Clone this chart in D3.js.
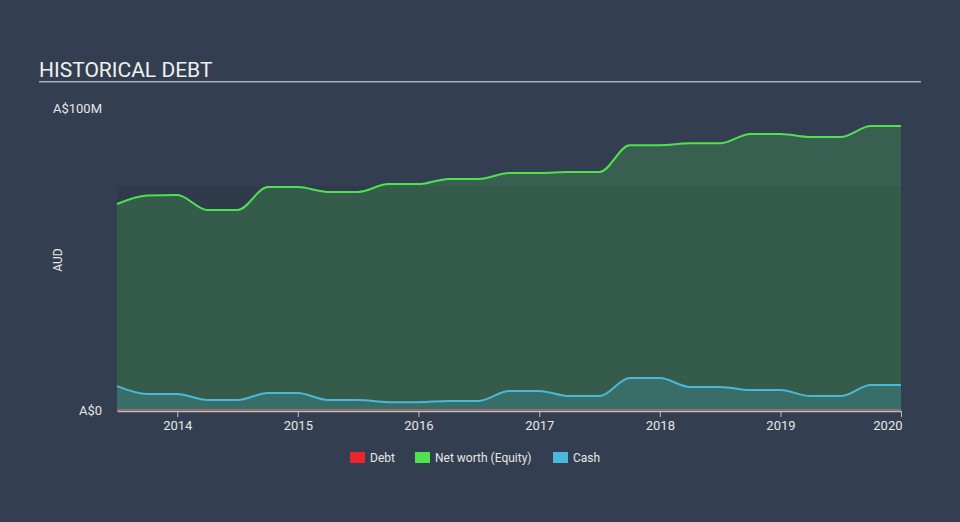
<!DOCTYPE html>
<html>
<head>
<meta charset="utf-8">
<script src="https://cdn.jsdelivr.net/npm/d3@7"></script>
<style>
  html, body { margin: 0; padding: 0; background: #333f50; }
  svg { display: block; font-family: Roboto, "Open Sans", sans-serif; }
</style>
</head>
<body>
<svg id="chart" width="960" height="522"></svg>
<script>
// Dates (fractional years) of the quarterly observations
const dates = [2013.5, 2013.75, 2014.0, 2014.25, 2014.5, 2014.75, 2015.0, 2015.25, 2015.5, 2015.75,
  2016.0, 2016.25, 2016.5, 2016.75, 2017.0, 2017.25, 2017.5, 2017.75, 2018.0, 2018.25,
  2018.5, 2018.75, 2019.0, 2019.25, 2019.5, 2019.75, 2020.0];
// Values in A$ millions
const equity = [68.2, 71.0, 71.2, 66.2, 66.2, 73.8, 73.8, 72.2, 72.2, 74.8,
  74.8, 76.5, 76.5, 78.5, 78.5, 78.8, 78.8, 87.7, 87.7, 88.3,
  88.3, 91.4, 91.4, 90.4, 90.4, 94.0, 94.0];
const cash = [7.9, 5.3, 5.3, 3.3, 3.3, 5.6, 5.6, 3.3, 3.3, 2.6,
  2.6, 3.0, 3.0, 6.3, 6.3, 4.6, 4.6, 10.6, 10.6, 7.6,
  7.6, 6.6, 6.6, 4.6, 4.6, 8.3, 8.3];
const debt = dates.map(() => 0);
const xTicks = [2014, 2015, 2016, 2017, 2018, 2019, 2020];
const yTickLabels = ["A$0", "A$100M"];
const yTickValues = [0, 100];
const legendItems = ["Debt", "Net worth (Equity)", "Cash"];
const legendColors = ["#e8262b", "#4ee34e", "#4ab8d8"];

const toDate = f => {
  const yr = Math.floor(f);
  const frac = f - yr;
  const start = new Date(yr, 0, 1), end = new Date(yr + 1, 0, 1);
  return new Date(start.getTime() + frac * (end - start));
};

const svg = d3.select("#chart");
const pLeft = 117, pRight = 901, pTop = 108, pBottom = 410;

const x = d3.scaleTime().domain([toDate(2013.5), toDate(2020.0)]).range([pLeft, pRight]);
const y = d3.scaleLinear().domain([0, 100]).range([pBottom, pTop]);

// Title
svg.append("text").attr("x", 39).attr("y", 77)
  .attr("fill", "#f0f0f0").attr("font-size", 21).text("HISTORICAL DEBT");
svg.append("rect").attr("x", 39).attr("y", 81).attr("width", 882).attr("height", 1.5)
  .attr("fill", "#a9b0b8");

// Darker plot band
svg.append("rect").attr("x", pLeft).attr("y", 186).attr("width", pRight - pLeft).attr("height", pBottom - 186)
  .attr("fill", "#000").attr("opacity", 0.07);

const data = dates.map((d, i) => ({ t: toDate(d), eq: equity[i], cash: cash[i], debt: debt[i] }));
const curve = d3.curveMonotoneX;

const area = key => d3.area().x(d => x(d.t)).y0(y(0)).y1(d => y(d[key])).curve(curve);
const line = key => d3.line().x(d => x(d.t)).y(d => y(d[key])).curve(curve);

svg.append("path").datum(data).attr("d", area("eq")).attr("fill", "#4ee34e").attr("fill-opacity", 0.2);
svg.append("path").datum(data).attr("d", area("cash")).attr("fill", "#4ab8d8").attr("fill-opacity", 0.2);
svg.append("path").datum(data).attr("d", line("eq")).attr("fill", "none").attr("stroke", "#4ee34e").attr("stroke-width", 2);
svg.append("path").datum(data).attr("d", line("cash")).attr("fill", "none").attr("stroke", "#4ab8d8").attr("stroke-width", 2);

// X axis
const xAxis = svg.append("g").attr("transform", `translate(0,${pBottom + 1})`)
  .call(d3.axisBottom(x).tickValues(xTicks.map(v => toDate(v))).tickFormat(d3.timeFormat("%Y")).tickSize(6).tickSizeOuter(0));
xAxis.select(".domain").attr("stroke", "#b8bec6").attr("stroke-width", 1.5);
xAxis.selectAll(".tick line").attr("stroke", "#b8bec6");
xAxis.selectAll(".tick text").attr("fill", "#e6e6e6").attr("font-size", 13).attr("font-family", "Roboto, sans-serif").attr("dy", "0.8em")
  .attr("text-anchor", (d, i) => i === xTicks.length - 1 ? "end" : "middle")
  .attr("x", (d, i) => i === xTicks.length - 1 ? 1 : 0);

// Debt line (zero)
svg.append("path").datum(data).attr("d", line("debt")).attr("fill", "none").attr("stroke", "#e8726b").attr("stroke-width", 1.2);

// Y labels
svg.selectAll(".ylab").data(yTickValues).enter().append("text")
  .attr("x", 102).attr("y", d => y(d)).attr("dy", "0.35em").attr("text-anchor", "end")
  .attr("fill", "#e6e6e6").attr("font-size", 13).text((d, i) => yTickLabels[i]);

svg.append("text").attr("transform", "translate(62,260) rotate(-90)").attr("text-anchor", "middle")
  .attr("fill", "#e6e6e6").attr("font-size", 12).text("AUD");

// Legend
const legX = [350, 415, 553];
const lg = svg.selectAll(".leg").data(legendItems).enter().append("g")
  .attr("transform", (d, i) => `translate(${legX[i]},452)`);
lg.append("rect").attr("width", 15).attr("height", 11).attr("fill", (d, i) => legendColors[i]);
lg.append("text").attr("x", 20).attr("y", 6).attr("dy", "0.35em").attr("fill", "#e6e6e6")
  .attr("font-size", 12).text(d => d);
</script>
</body>
</html>
